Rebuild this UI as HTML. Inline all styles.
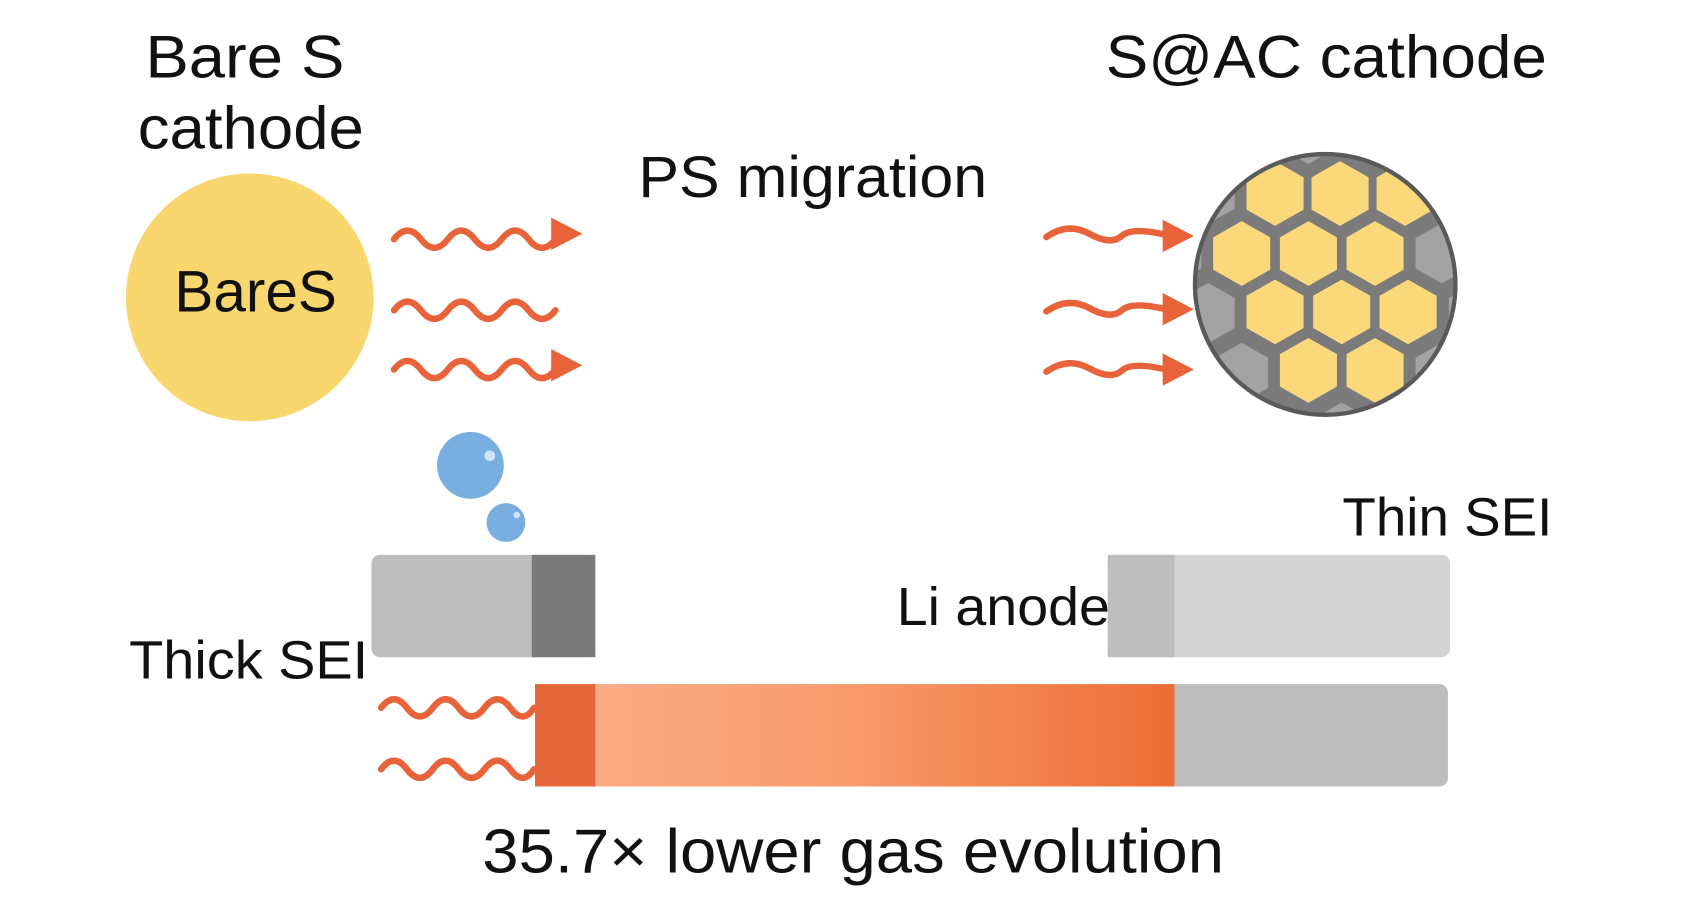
<!DOCTYPE html>
<html><head><meta charset="utf-8"><style>
html,body{margin:0;padding:0;background:#fff;width:1688px;height:905px;overflow:hidden}
svg{display:block}
text{font-family:"Liberation Sans",sans-serif;fill:#111}
</style></head><body>
<svg width="1688" height="905" viewBox="0 0 1568 840" preserveAspectRatio="none" xmlns="http://www.w3.org/2000/svg">
<defs>
<linearGradient id="g" x1="0" x2="1" y1="0" y2="0">
<stop offset="0" stop-color="#FCB089"/><stop offset="0.5" stop-color="#F89A6A"/><stop offset="1" stop-color="#EE6D34"/>
</linearGradient>
<pattern id="hx" patternUnits="userSpaceOnUse" x="1153.4" y="179.6" width="62" height="111">
<rect width="62" height="111" fill="#7b7b7b"/>
<g fill="#a3a3a3">
<polygon transform="translate(31,0)" points="0,-28 24.5,-14 24.5,14 0,28 -24.5,14 -24.5,-14"/>
<polygon transform="translate(31,111)" points="0,-28 24.5,-14 24.5,14 0,28 -24.5,14 -24.5,-14"/>
<polygon transform="translate(0,55.5)" points="0,-28 24.5,-14 24.5,14 0,28 -24.5,14 -24.5,-14"/>
<polygon transform="translate(62,55.5)" points="0,-28 24.5,-14 24.5,14 0,28 -24.5,14 -24.5,-14"/>
</g>
</pattern>
<clipPath id="cc"><circle cx="1231" cy="264" r="121"/></clipPath>
<polygon id="h" points="0,-30 26.5,-15 26.5,15 0,30 -26.5,15 -26.5,-15"/>
</defs>

<text x="135" y="72" font-size="56" textLength="185" lengthAdjust="spacingAndGlyphs">Bare S</text>
<text x="128" y="138" font-size="56" textLength="210" lengthAdjust="spacingAndGlyphs">cathode</text>
<circle cx="232" cy="276" r="115" fill="#FAD66E"/>
<text x="162" y="289" font-size="54" textLength="151" lengthAdjust="spacingAndGlyphs">BareS</text>

<g fill="none" stroke="#E8633A" stroke-width="6" stroke-linecap="round">
<path d="M366 222 q12.5 -16 25 0 t25 0 t25 0 t25 0 t25 0 t25 0"/>
<path d="M366 288 q12.5 -16 25 0 t25 0 t25 0 t25 0 t25 0 t25 0"/>
<path d="M366 343 q12.5 -16 25 0 t25 0 t25 0 t25 0 t25 0 t25 0"/>
<path d="M972 220 q20 -14 40 -3 t30 2 t45 0"/>
<path d="M972 289 q20 -14 40 -3 t30 2 t45 0"/>
<path d="M972 345 q20 -14 40 -3 t30 2 t45 0"/>
<path d="M354 657 q12 -16 24 0 t24 0 t24 0 t24 0 t24 0 t22 0"/>
<path d="M354 714 q12 -16 24 0 t24 0 t24 0 t24 0 t24 0 t22 0"/>
</g>
<g fill="#E8633A">
<polygon points="512,202 541,217 512,232"/>
<polygon points="512,324 541,339 512,354"/>
<polygon points="1080,204 1109,219 1080,234"/>
<polygon points="1080,272 1109,287 1080,302"/>
<polygon points="1080,328 1109,343 1080,358"/>
</g>

<text x="593" y="183" font-size="54" textLength="324" lengthAdjust="spacingAndGlyphs">PS migration</text>
<text x="1027" y="72" font-size="56" textLength="410" lengthAdjust="spacingAndGlyphs">S@AC cathode</text>

<circle cx="1231" cy="264" r="121" fill="url(#hx)"/>
<g clip-path="url(#cc)" fill="#FBD97A">
<use href="#h" x="1184.4" y="179.6"/><use href="#h" x="1244.8" y="179.6"/><use href="#h" x="1305.2" y="179.6"/>
<use href="#h" x="1153.4" y="235.3"/><use href="#h" x="1215.4" y="235.3"/><use href="#h" x="1277.3" y="235.3"/>
<use href="#h" x="1184.4" y="289.5"/><use href="#h" x="1246.3" y="289.5"/><use href="#h" x="1308" y="289.5"/>
<use href="#h" x="1215.4" y="343.7"/><use href="#h" x="1277.3" y="343.7"/>
</g>
<circle cx="1231" cy="264" r="121" fill="none" stroke="#5a5a5a" stroke-width="4"/>

<circle cx="437" cy="432" r="31" fill="#79AEE0"/>
<circle cx="455" cy="423" r="5" fill="#cfe3f5"/>
<circle cx="470" cy="485" r="18" fill="#79AEE0"/>
<circle cx="480" cy="478" r="3" fill="#cfe3f5"/>

<rect x="345" y="515" width="208" height="95" rx="8" fill="#BDBDBD"/>
<rect x="494" y="515" width="59" height="95" fill="#7A7A7A"/>

<rect x="1029" y="515" width="318" height="95" rx="8" fill="#D3D3D3"/>
<rect x="1029" y="515" width="62" height="95" fill="#BDBDBD"/>

<rect x="497" y="635" width="848" height="95" rx="8" fill="#BDBDBD"/>
<rect x="497" y="635" width="594" height="95" fill="url(#g)"/>
<rect x="497" y="635" width="56" height="95" fill="#E5663A"/>

<text x="120" y="630" font-size="50" textLength="222" lengthAdjust="spacingAndGlyphs">Thick SEI</text>
<text x="833" y="580" font-size="50" textLength="198" lengthAdjust="spacingAndGlyphs">Li anode</text>
<text x="1247" y="497" font-size="50" textLength="195" lengthAdjust="spacingAndGlyphs">Thin SEI</text>
<text x="448" y="810" font-size="58" textLength="689" lengthAdjust="spacingAndGlyphs">35.7× lower gas evolution</text>
</svg>
</body></html>
